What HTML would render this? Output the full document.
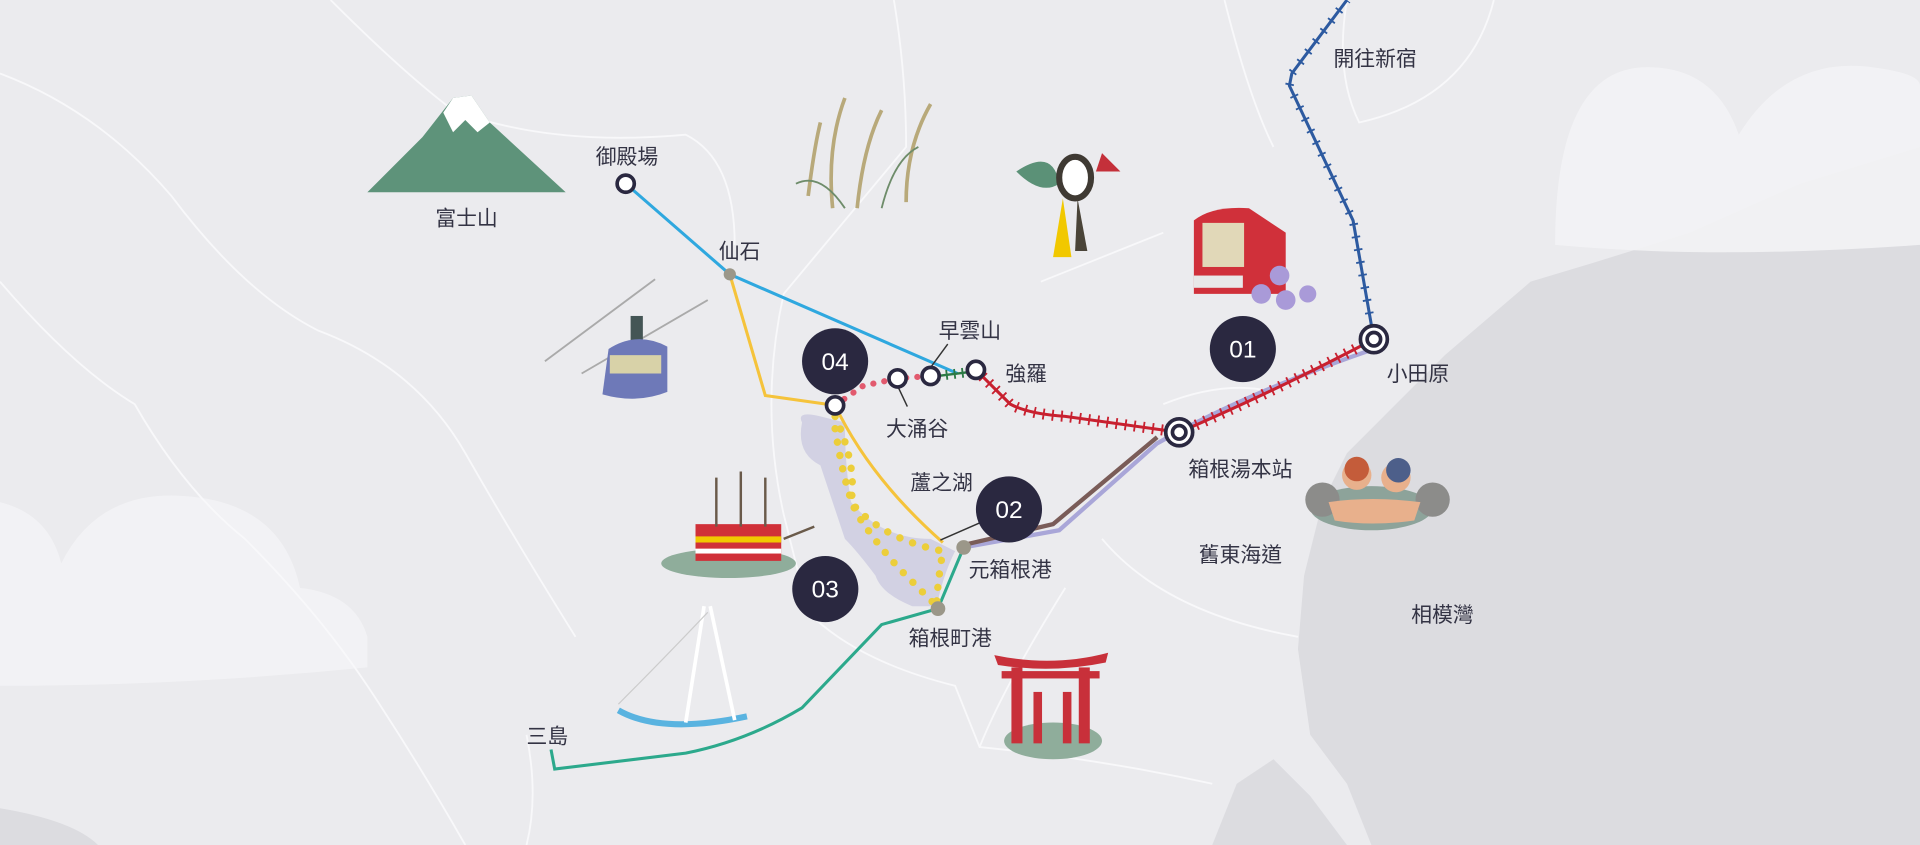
<!DOCTYPE html>
<html><head><meta charset="utf-8"><style>
html,body{margin:0;padding:0;background:#ebebee;}
svg{display:block}
text{font-family:"Liberation Sans","Noto Sans CJK TC",sans-serif;fill:#333344;font-size:17px}
.w{fill:#fff;font-size:20px;text-anchor:middle}
</style></head><body>
<svg width="1920" height="845" viewBox="0 0 1568 690" preserveAspectRatio="none" xmlns="http://www.w3.org/2000/svg">
<rect width="1568" height="690" fill="#ebebee"/>
<!-- sea -->
<path d="M1568,120 L1470,150 L1380,190 L1300,215 L1250,230 L1180,290 L1140,330 L1100,370 L1080,410 L1065,470 L1060,530 L1070,600 L1100,640 L1120,690 L1568,690 Z" fill="#dcdce0"/>
<path d="M990,690 L1010,640 L1040,620 L1070,650 L1100,690 Z" fill="#dcdce0"/>
<!-- clouds -->
<g fill="#f3f3f5" opacity="0.9">
<path d="M1270,200 Q1270,60 1340,55 Q1400,52 1420,110 Q1460,45 1530,55 Q1568,60 1568,70 L1568,200 Q1400,212 1270,200Z"/>
<path d="M0,560 L0,410 Q40,420 50,460 Q80,400 150,405 Q230,410 245,480 Q290,485 300,520 L300,545 Q150,560 0,560Z"/>
</g>
<path d="M0,660 Q60,670 80,690 L0,690Z" fill="#dcdce0"/>
<!-- roads -->
<g fill="none" stroke="#f8f8fa" stroke-width="1.5">
<path d="M0,60 Q80,90 140,160 Q200,240 260,270 Q340,300 380,370 Q420,440 470,520"/>
<path d="M270,0 Q330,60 370,90 Q450,120 560,110 Q600,130 600,200"/>
<path d="M730,0 Q740,60 740,120 Q690,180 640,240 Q620,330 640,420 L660,500 Q700,540 780,560 L800,610 Q900,620 990,640"/>
<path d="M850,230 Q900,210 950,190"/>
<path d="M0,230 Q60,300 110,330 Q150,400 200,440 Q260,500 300,560 Q340,620 380,690"/>
<path d="M1100,0 Q1090,60 1110,100 Q1200,80 1220,0"/>
<path d="M900,440 Q950,500 1060,520"/>
<path d="M870,480 Q820,560 800,610"/>
<path d="M950,330 Q1000,310 1040,320"/>
<path d="M430,600 Q440,650 430,690"/>
<path d="M1000,0 Q1020,80 1040,120"/>
</g>
<!-- lake -->
<path d="M655,345 Q650,335 670,340 L690,345 Q690,380 695,410 Q720,440 760,440 L780,450 Q770,470 765,495 L745,495 Q720,485 715,470 Q700,450 690,440 Q680,410 670,380 Q650,370 655,345Z" fill="#d2d1e3"/>
<!-- Fuji -->
<path d="M300,157 L345,112 L370,80 L385,78 L400,100 L462,157Z" fill="#5e937a"/>
<path d="M362,92 L370,80 L385,78 L400,100 L390,108 L380,98 L370,108Z" fill="#fff"/>
<!-- grass -->
<g stroke="#b8a97a" stroke-width="3" fill="none"><path d="M680,170 Q675,120 690,80"/><path d="M700,170 Q705,120 720,90"/><path d="M740,165 Q740,120 760,85"/><path d="M660,160 Q665,120 670,100"/></g>
<g stroke="#6e8c6a" stroke-width="1.5" fill="none"><path d="M650,150 Q670,140 690,170"/><path d="M720,170 Q730,130 750,120"/></g>
<!-- flower -->
<path d="M830,140 Q860,120 865,150 Q850,160 830,140Z" fill="#5b9177"/>
<path d="M900,125 L915,140 L895,140Z" fill="#c4303a"/>
<ellipse cx="878" cy="145" rx="13" ry="17" fill="#fff" stroke="#3f3a33" stroke-width="5"/>
<path d="M868,162 L875,210 L860,210Z" fill="#f1c800"/><path d="M880,162 L888,205 L878,205Z" fill="#4a4438"/>
<!-- train -->
<path d="M975,180 Q990,168 1020,170 L1050,190 L1050,240 L975,240Z" fill="#d0303a"/>
<rect x="982" y="182" width="34" height="36" fill="#e1d8b8"/>
<rect x="975" y="225" width="40" height="10" fill="#e8e8e8"/>
<g fill="#a99ad8"><circle cx="1045" cy="225" r="8"/><circle cx="1030" cy="240" r="8"/><circle cx="1050" cy="245" r="8"/><circle cx="1068" cy="240" r="7"/></g>
<!-- cable car -->
<line x1="445" y1="295" x2="535" y2="228" stroke="#aaa" stroke-width="1.5"/>
<line x1="475" y1="305" x2="578" y2="245" stroke="#aaa" stroke-width="1.5"/>
<rect x="515" y="258" width="10" height="24" fill="#455"/>
<path d="M497,285 Q520,270 545,283 L545,320 Q520,330 492,322Z" fill="#6e79b8"/>
<rect x="498" y="290" width="42" height="15" fill="#d8d2a8"/>
<!-- ship -->
<ellipse cx="595" cy="460" rx="55" ry="12" fill="#8fad9b"/>
<rect x="568" y="428" width="70" height="30" fill="#d03038"/>
<rect x="568" y="438" width="70" height="5" fill="#f1c800"/>
<rect x="568" y="448" width="70" height="4" fill="#fff"/>
<g stroke="#6a5a4a" stroke-width="2"><line x1="585" y1="390" x2="585" y2="430"/><line x1="605" y1="385" x2="605" y2="430"/><line x1="625" y1="390" x2="625" y2="430"/><line x1="640" y1="440" x2="665" y2="430"/></g>
<!-- bridge -->
<path d="M505,580 Q540,600 610,585" fill="none" stroke="#59b3e0" stroke-width="5"/>
<g stroke="#fff" stroke-width="3"><line x1="575" y1="495" x2="560" y2="590"/><line x1="580" y1="495" x2="600" y2="588"/></g>
<path d="M505,575 Q540,540 578,500" fill="none" stroke="#ccc" stroke-width="1"/>
<!-- torii -->
<ellipse cx="860" cy="605" rx="40" ry="15" fill="#8fad9b"/>
<path d="M812,535 Q860,545 905,533 L903,541 Q860,550 815,543Z" fill="#c8303a"/>
<rect x="818" y="548" width="80" height="6" fill="#c8303a"/>
<rect x="826" y="545" width="9" height="62" fill="#c8303a"/><rect x="881" y="545" width="9" height="62" fill="#c8303a"/>
<rect x="844" y="565" width="7" height="42" fill="#c8303a"/><rect x="868" y="565" width="7" height="42" fill="#c8303a"/>
<!-- onsen -->
<ellipse cx="1120" cy="415" rx="50" ry="18" fill="#8da39a"/>
<circle cx="1080" cy="408" r="14" fill="#8c8c8a"/><circle cx="1170" cy="408" r="14" fill="#8c8c8a"/>
<circle cx="1108" cy="388" r="12" fill="#e8b08c"/><circle cx="1140" cy="390" r="12" fill="#e8b08c"/>
<circle cx="1108" cy="383" r="10" fill="#c45c3a"/><circle cx="1142" cy="384" r="10" fill="#4d5f8a"/>
<path d="M1085,410 Q1120,405 1160,410 L1155,425 Q1120,430 1090,425Z" fill="#e8b08c"/>
<!-- routes -->
<path d="M1122,277 L1105,180 L1053,70 L1055,60 L1100,0" fill="none" stroke="#2d5aa0" stroke-width="2.5"/>
<path d="M1122,277 L1105,180 L1053,70 L1055,60 L1100,0" fill="none" stroke="#2d5aa0" stroke-width="7" stroke-dasharray="1.5 9"/>
<path d="M787,447 L865,433 L945,362 Q1020,320 1122,285" fill="none" stroke="#a9a6d8" stroke-width="3.5"/>
<path d="M787,445 L860,428 L945,357" fill="none" stroke="#7a5c58" stroke-width="3.5"/>
<path d="M596,224 L625,323 L682,331" fill="none" stroke="#f5c33b" stroke-width="2.5"/>
<path d="M682,331 Q710,390 770,443" fill="none" stroke="#f5c33b" stroke-width="2.5"/>
<path d="M511,150 L596,224 L782,305" fill="none" stroke="#2fa8df" stroke-width="2.5"/>
<path d="M787,447 L766,497 L720,510 L655,578 Q610,605 560,615 L453,628 L450,612" fill="none" stroke="#2ca98c" stroke-width="2.5"/>
<g stroke="#c8202f" fill="none"><path d="M797,302 L825,330 Q840,338 870,340 L963,353 Q1040,320 1122,277" stroke-width="2.5"/>
<path d="M797,302 L825,330 Q840,338 870,340 L963,353 Q1040,320 1122,277" stroke-width="9" stroke-dasharray="1.5 6"/></g>
<path d="M766,307 L790,304" stroke="#2c7a45" stroke-width="8" stroke-dasharray="1.5 5"/>
<path d="M766,307 L790,304" stroke="#2c7a45" stroke-width="2"/>
<path d="M682,331 L705,315 L733,309 L760,307" fill="none" stroke="#e25a6e" stroke-width="5" stroke-dasharray="0.1 9" stroke-linecap="round"/>
<path d="M682,340 Q700,380 695,410 Q720,440 770,450 Q765,480 765,495" fill="none" stroke="#ecce3a" stroke-width="6" stroke-dasharray="0.1 11" stroke-linecap="round"/>
<path d="M682,350 Q690,400 700,420 Q720,450 740,470 Q755,485 765,495" fill="none" stroke="#ecce3a" stroke-width="6" stroke-dasharray="0.1 11" stroke-linecap="round"/>
<!-- leaders -->
<g stroke="#333" stroke-width="1.2"><line x1="760" y1="300" x2="774" y2="281"/><line x1="733" y1="315" x2="741" y2="332"/><line x1="768" y1="441" x2="800" y2="427"/></g>
<!-- stations -->
<g fill="#fff" stroke="#2a2840" stroke-width="3">
<circle cx="511" cy="150" r="7"/><circle cx="682" cy="331" r="7"/><circle cx="733" cy="309" r="7"/><circle cx="760" cy="307" r="7"/><circle cx="797" cy="302" r="7"/>
<circle cx="963" cy="353" r="11"/><circle cx="1122" cy="277" r="11"/>
</g>
<g fill="#fff" stroke="#2a2840" stroke-width="3"><circle cx="963" cy="353" r="5.5"/><circle cx="1122" cy="277" r="5.5"/></g>
<g fill="#9b9789"><circle cx="596" cy="224" r="5"/><circle cx="787" cy="447" r="6"/><circle cx="766" cy="497" r="6"/></g>
<!-- numbers -->
<g fill="#2a2840"><circle cx="682" cy="295" r="27"/><circle cx="824" cy="416" r="27"/><circle cx="674" cy="481" r="27"/><circle cx="1015" cy="285" r="27"/></g>
<text class="w" x="682" y="302">04</text><text class="w" x="824" y="423">02</text><text class="w" x="674" y="488">03</text><text class="w" x="1015" y="292">01</text>
<!-- labels -->
<g text-anchor="middle">
<text x="512" y="134">御殿場</text><text x="604" y="211">仙石</text><text x="381" y="184">富士山</text>
<text x="792" y="276">早雲山</text><text x="838" y="311">強羅</text><text x="749" y="356">大涌谷</text>
<text x="769" y="400">蘆之湖</text><text x="825" y="471">元箱根港</text><text x="776" y="527">箱根町港</text>
<text x="1013" y="389">箱根湯本站</text><text x="1158" y="311">小田原</text><text x="1123" y="54">開往新宿</text>
<text x="1013" y="459">舊東海道</text><text x="1178" y="508">相模灣</text><text x="447" y="607">三島</text>
</g>
</svg>
</body></html>
